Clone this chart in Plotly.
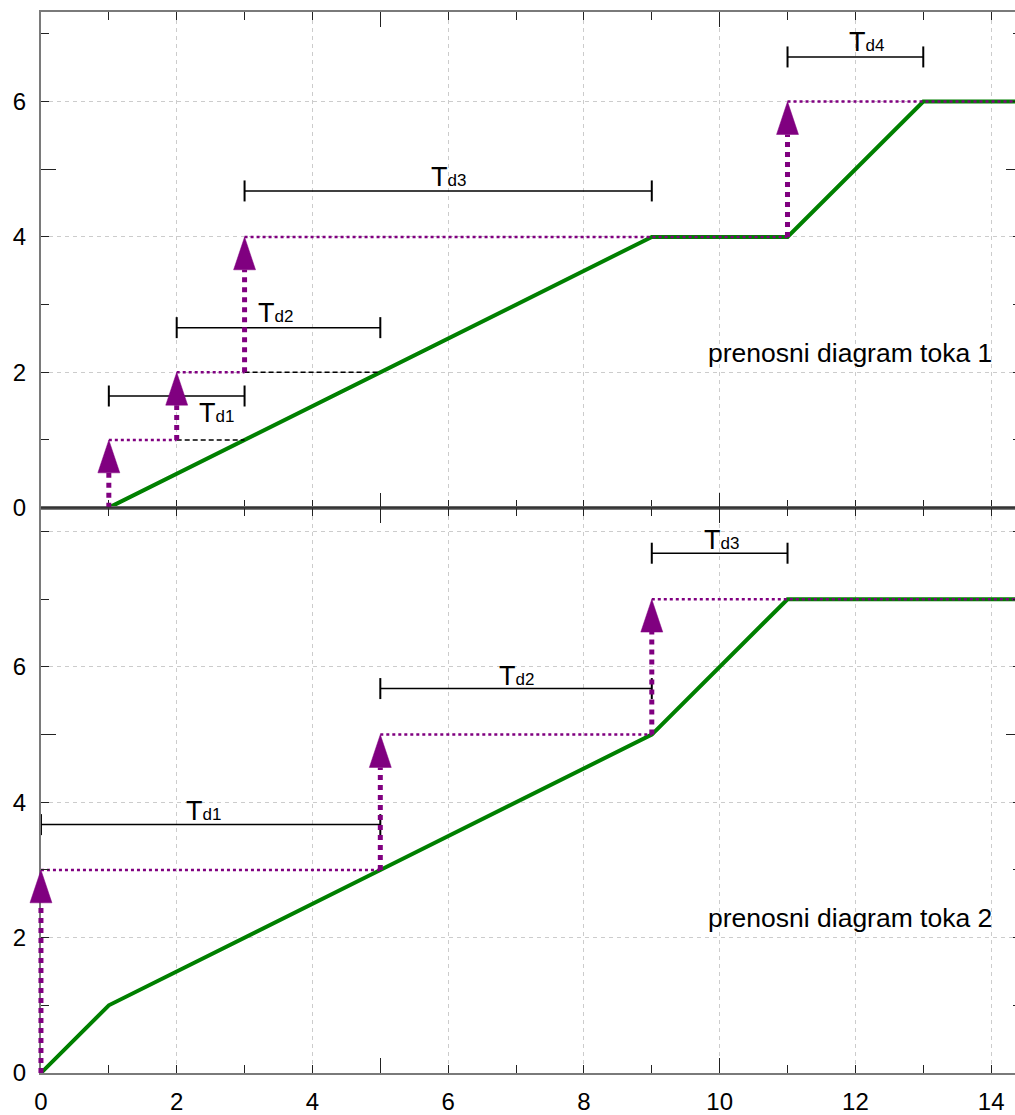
import plotly.graph_objects as go

# ---------------- data ----------------
# panel 1 : prenosni diagram toka 1
p1_green_x = [1, 9, 11, 13, 14.5]
p1_green_y = [0, 4, 4, 6, 6]
p1_arrow_x = [1, 2, 3, 11]
p1_arrow_y0 = [0, 1, 2, 4]
p1_arrow_y1 = [1, 2, 4, 6]
p1_dash_x0 = [2, 3]
p1_dash_x1 = [3, 5]
p1_dash_y = [1, 2]
p1_bar_x0 = [1, 2, 3, 11]
p1_bar_x1 = [3, 5, 9, 13]
p1_bar_y = [1.65, 2.66, 4.68, 6.66]
p1_labels = ["d1", "d2", "d3", "d4"]
p1_label_x = [2.58, 3.46, 6.0, 12.16]
p1_label_y = [1.40, 2.87, 4.88, 6.88]

# panel 2 : prenosni diagram toka 2
p2_green_x = [0, 1, 5, 9, 11, 14.5]
p2_green_y = [0, 1, 3, 5, 7, 7]
p2_arrow_x = [0, 5, 9]
p2_arrow_y0 = [0, 3, 5]
p2_arrow_y1 = [3, 5, 7]
p2_bar_x0 = [0, 5, 9]
p2_bar_x1 = [5, 9, 11]
p2_bar_y = [3.67, 5.68, 7.68]
p2_labels = ["d1", "d2", "d3"]
p2_label_x = [2.4, 7.0, 10.03]
p2_label_y = [3.87, 5.87, 7.87]

x_ticks = [0, 2, 4, 6, 8, 10, 12, 14]
x_minor = list(range(0, 15))
x_long_ticks = [5, 10]
y_ticks = [0, 2, 4, 6]
y_minor = [1, 3, 5, 7]
y_long_ticks = [5]
X_MAX = 14.44
Y1_MAX = 7.324
Y2_MAX = 8.353

PURPLE = "#800080"
GREEN = "#008000"
FONT = "Liberation Sans, Arial, sans-serif"

# arrow head geometry (in data units; both panels use ~68 px per unit)
HEAD_HW = 11 / 68.0
HEAD_H = 33 / 68.0

# layout geometry (figure is 8 px wider than the window; right border falls outside)
W, H = 1023, 1115
ML, MT, MB = 20, 12, 37
PLOT_LEFT = 41                       # pixel where x = 0 sits
pw = W - ML
ph = H - MT - MB
dom_x0 = (PLOT_LEFT - ML) / pw
px_per_unit = (pw - (PLOT_LEFT - ML)) / X_MAX
X_OVER_MIN = -(PLOT_LEFT - ML) / px_per_unit
split = (1078 - 510) / ph

fig = go.Figure()


def add_panel(xa, ya, oxa, oya, gx, gy, ax, ay0, ay1, bx0, bx1, by, labels, lx, ly,
              dx0=None, dx1=None, dy=None, xend=14.5):
    # green curve
    fig.add_trace(go.Scatter(x=gx, y=gy, mode="lines",
                             line=dict(color=GREEN, width=4),
                             xaxis=xa, yaxis=ya, showlegend=False, hoverinfo="skip"))
    # black dashed helper lines
    if dx0 is not None:
        xs, ys = [], []
        for a, b, y in zip(dx0, dx1, dy):
            xs += [a, b, None]
            ys += [y, y, None]
        fig.add_trace(go.Scatter(x=xs, y=ys, mode="lines",
                                 line=dict(color="black", width=1.5, dash="5px,3px"),
                                 xaxis=xa, yaxis=ya, showlegend=False, hoverinfo="skip"))
    # purple thin dotted horizontal steps
    xs, ys = [], []
    for i in range(len(ax)):
        nxt = ax[i + 1] if i + 1 < len(ax) else xend
        xs += [ax[i], nxt, None]
        ys += [ay1[i], ay1[i], None]
    fig.add_trace(go.Scatter(x=xs, y=ys, mode="lines",
                             line=dict(color=PURPLE, width=2.5, dash="dot"),
                             xaxis=xa, yaxis=ya, showlegend=False, hoverinfo="skip"))
    # Td bars
    for a, b, y in zip(bx0, bx1, by):
        fig.add_trace(go.Scatter(x=[a, b], y=[y, y], mode="lines+markers",
                                 line=dict(color="black", width=1.5),
                                 marker=dict(symbol="line-ns", size=15,
                                             line=dict(color="black", width=2)),
                                 xaxis=xa, yaxis=ya, showlegend=False, hoverinfo="skip",
                                 cliponaxis=False))
    # arrow shafts (on overlay axes so they are not clipped at x = 0)
    xs, ys = [], []
    for x, y0, y1 in zip(ax, ay0, ay1):
        xs += [x, x, None]
        ys += [y0, y1 - HEAD_H, None]
    fig.add_trace(go.Scatter(x=xs, y=ys, mode="lines",
                             line=dict(color=PURPLE, width=5, dash="dot"),
                             xaxis=oxa, yaxis=oya, showlegend=False, hoverinfo="skip"))
    # arrow heads
    xs, ys = [], []
    for x, y1 in zip(ax, ay1):
        xs += [x - HEAD_HW, x, x + HEAD_HW, x - HEAD_HW, None]
        ys += [y1 - HEAD_H, y1, y1 - HEAD_H, y1 - HEAD_H, None]
    fig.add_trace(go.Scatter(x=xs, y=ys, mode="lines", fill="toself",
                             fillcolor=PURPLE, line=dict(color=PURPLE, width=0.5),
                             xaxis=oxa, yaxis=oya, showlegend=False, hoverinfo="skip"))
    for t, x, y in zip(labels, lx, ly):
        fig.add_annotation(x=x, y=y, xref=xa, yref=ya, showarrow=False,
                           text="T<span style='font-size:17px'>" + t + "</span>",
                           font=dict(family=FONT, size=27, color="black"))


add_panel("x", "y", "x3", "y3", p1_green_x, p1_green_y, p1_arrow_x, p1_arrow_y0,
          p1_arrow_y1, p1_bar_x0, p1_bar_x1, p1_bar_y, p1_labels, p1_label_x, p1_label_y,
          p1_dash_x0, p1_dash_x1, p1_dash_y)
add_panel("x2", "y2", "x4", "y4", p2_green_x, p2_green_y, p2_arrow_x, p2_arrow_y0,
          p2_arrow_y1, p2_bar_x0, p2_bar_x1, p2_bar_y, p2_labels, p2_label_x, p2_label_y)

# empty traces so the extra-tick overlay y axes get a subplot
fig.add_trace(go.Scatter(x=[], y=[], xaxis="x", yaxis="y5", showlegend=False))
fig.add_trace(go.Scatter(x=[], y=[], xaxis="x2", yaxis="y6", showlegend=False))

fig.add_annotation(x=14.04, y=2.28, xref="x", yref="y", xanchor="right", showarrow=False,
                   text="prenosni diagram toka 1",
                   font=dict(family=FONT, size=26.5, color="black"))
fig.add_annotation(x=14.04, y=2.29, xref="x2", yref="y2", xanchor="right", showarrow=False,
                   text="prenosni diagram toka 2",
                   font=dict(family=FONT, size=26.5, color="black"))

GRID = "#cccccc"
AXIS = "#7a7a7a"
TICK = "#222222"

common_x = dict(range=[0, X_MAX], domain=[dom_x0, 1], tickvals=x_ticks, showgrid=True,
                gridcolor=GRID, griddash="4px,4px", gridwidth=1, ticks="inside",
                ticklen=8, tickcolor=TICK, tickwidth=1.2,
                minor=dict(tickvals=x_minor, ticks="inside", ticklen=8,
                           tickcolor=TICK, tickwidth=1.2, showgrid=False),
                showline=True, linecolor=AXIS, linewidth=2, mirror="allticks",
                zeroline=False, tickfont=dict(family=FONT, size=24, color="black"))
common_y = dict(showgrid=True, gridcolor=GRID, griddash="4px,4px", gridwidth=1,
                ticks="inside", ticklen=8, tickcolor=TICK, tickwidth=1.2,
                showline=True, linecolor=AXIS, linewidth=2, mirror="allticks",
                zeroline=False, ticklabelstandoff=8,
                tickfont=dict(family=FONT, size=24, color="black"),
                minor=dict(tickvals=y_minor, ticks="inside", ticklen=8,
                           tickcolor=TICK, tickwidth=1.2, showgrid=False))
overlay_x = dict(range=[X_OVER_MIN, X_MAX], domain=[0, 1], visible=True,
                 showline=False, showgrid=False, zeroline=False, showticklabels=False,
                 tickvals=x_long_ticks, ticks="inside", ticklen=15, tickcolor=TICK,
                 tickwidth=1.2, mirror="ticks", fixedrange=True)
overlay_y = dict(visible=False, showgrid=False, zeroline=False, fixedrange=True)
long_y = dict(visible=True, showline=False, showgrid=False, zeroline=False,
              showticklabels=False, tickvals=y_long_ticks, ticks="inside", ticklen=15,
              tickcolor=TICK, tickwidth=1.2, mirror="ticks", fixedrange=True)

fig.update_layout(
    width=W, height=H,
    margin=dict(l=ML, r=0, t=MT, b=MB),
    paper_bgcolor="white", plot_bgcolor="rgba(0,0,0,0)",
    xaxis=dict(common_x, anchor="y", showticklabels=False),
    yaxis=dict(common_y, domain=[split, 1], anchor="x", range=[0, Y1_MAX],
               tickvals=y_ticks),
    xaxis2=dict(common_x, anchor="y2", ticklabelstandoff=6),
    yaxis2=dict(common_y, domain=[0, split], anchor="x2", range=[0, Y2_MAX],
                tickvals=[0, 2, 4, 6, 8], ticktext=["0", "2", "4", "6", ""]),
    xaxis3=dict(overlay_x, anchor="y3"),
    yaxis3=dict(overlay_y, domain=[split, 1], anchor="x3", range=[0, Y1_MAX]),
    xaxis4=dict(overlay_x, anchor="y4"),
    yaxis4=dict(overlay_y, domain=[0, split], anchor="x4", range=[0, Y2_MAX]),
    yaxis5=dict(long_y, overlaying="y", anchor="x", range=[0, Y1_MAX]),
    yaxis6=dict(long_y, overlaying="y2", anchor="x2", range=[0, Y2_MAX]),
    shapes=[dict(type="line", xref="paper", yref="paper", x0=dom_x0, x1=1,
                 y0=split, y1=split, line=dict(color="#333333", width=2),
                 layer="above")],
)

fig.write_html("out.html", config={"displayModeBar": False},
               post_script="document.body.style.margin='0';document.body.style.overflow='hidden';")
